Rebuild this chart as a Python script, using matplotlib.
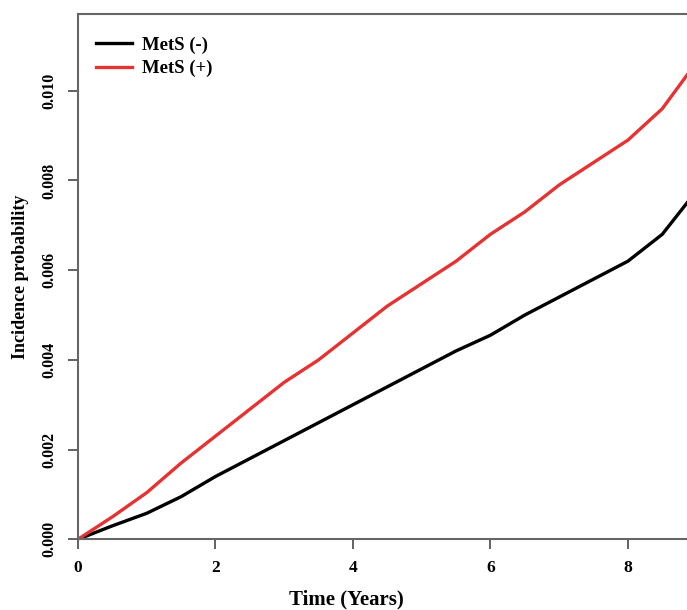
import matplotlib
matplotlib.use('Agg')
import matplotlib.pyplot as plt

# 数据
time_years = [0, 0.5, 1, 1.5, 2, 2.5, 3, 3.5, 4, 4.5, 5, 5.5, 6, 6.5, 7, 7.5, 8, 8.5, 8.86]
mets_neg = [0, 0.0003, 0.00058, 0.00095, 0.0014, 0.0018, 0.0022, 0.0026, 0.0030, 0.0034,
            0.0038, 0.0042, 0.00455, 0.0050, 0.0054, 0.0058, 0.0062, 0.0068, 0.0075]
mets_pos = [0, 0.0005, 0.00104, 0.0017, 0.0023, 0.0029, 0.0035, 0.0040, 0.0046, 0.0052,
            0.0057, 0.0062, 0.0068, 0.0073, 0.0079, 0.0084, 0.0089, 0.0096, 0.01035]
x_ticks = [0, 2, 4, 6, 8]
y_ticks = [0.000, 0.002, 0.004, 0.006, 0.008, 0.010]

plt.rcParams['font.family'] = ['Liberation Serif', 'DejaVu Serif']
plt.rcParams['font.weight'] = 'bold'

fig = plt.figure(figsize=(6.87, 6.10), dpi=100)
ax = fig.add_axes([0.1135, 0.1159, 0.8865, 0.861])

ax.plot(time_years, mets_neg, color='black', linewidth=2.4, label='MetS (-)')
ax.plot(time_years, mets_pos, color='#e53232', linewidth=2.4, label='MetS (+)')

ax.set_xlim(0, 8.86)
ax.set_ylim(0, 0.01171)
ax.set_xticks(x_ticks)
ax.set_xticklabels([str(t) for t in x_ticks], fontsize=12.5, fontweight='bold')
ax.set_yticks(y_ticks)
ax.set_yticklabels([f'{v:.3f}' for v in y_ticks], fontsize=11.5, fontweight='bold',
                   rotation=90, va='center')

for side in ['left', 'bottom', 'top']:
    ax.spines[side].set_color('#666666')
    ax.spines[side].set_linewidth(1.5)
ax.spines['right'].set_visible(False)
ax.tick_params(direction='out', length=7, width=1.3, color='#555555', pad=8)

ax.set_xlabel('Time (Years)', fontsize=15, fontweight='bold')
ax.xaxis.set_label_coords(0.44, -0.095)
ax.set_ylabel('Incidence probability', fontsize=13, fontweight='bold', labelpad=9)

ax.legend(loc='upper left', bbox_to_anchor=(0.002, 0.99), frameon=False,
          prop={'size': 13.5, 'weight': 'bold'}, handlelength=1.9,
          handletextpad=0.55, labelspacing=0.35)

fig.savefig('out.png', dpi=100)
